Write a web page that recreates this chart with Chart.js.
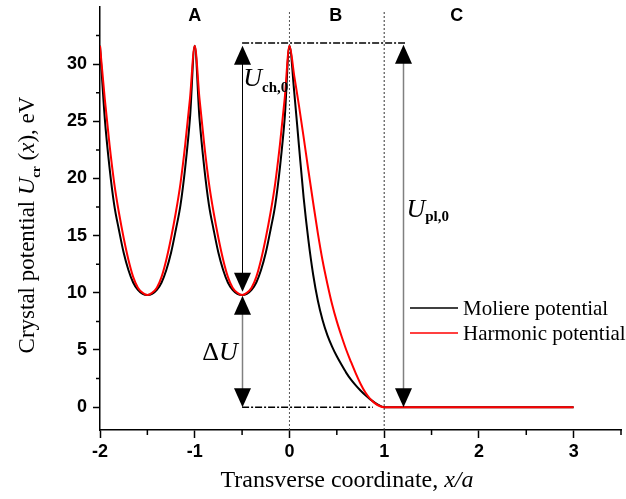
<!DOCTYPE html>
<html>
<head>
<meta charset="utf-8">
<script src="https://cdn.jsdelivr.net/npm/chart.js@4.4.1/dist/chart.umd.min.js"></script>
<style>
  html, body { margin: 0; padding: 0; background: #fff; }
  #wrap { width: 626px; height: 499px; }
</style>
</head>
<body>
<div id="wrap"><canvas id="potentialChart" width="626" height="499"></canvas></div>
<script>
// transverse coordinate x/a of the sampled points
const xCoord = [-2, -1.95, -1.9, -1.85, -1.8, -1.75, -1.7, -1.65, -1.6, -1.55, -1.5,
  -1.45, -1.4, -1.35, -1.3, -1.25, -1.2, -1.15, -1.1, -1.05, -1,
  -0.95, -0.9, -0.85, -0.8, -0.75, -0.7, -0.65, -0.6, -0.55, -0.5,
  -0.45, -0.4, -0.35, -0.3, -0.25, -0.2, -0.15, -0.1, -0.05, 0,
  0.05, 0.1, 0.15, 0.2, 0.25, 0.3, 0.35, 0.4, 0.45, 0.5,
  0.55, 0.6, 0.65, 0.7, 0.75, 0.8, 0.85, 0.9, 0.95, 1,
  1.5, 2, 2.5, 3];

// Moliere potential, eV
const moliere = [31.6, 25.3, 21.0, 17.7, 15.5, 13.5, 12.0, 10.9, 10.25, 9.9, 9.8,
  9.9, 10.25, 10.9, 12.0, 13.5, 15.5, 17.7, 21.0, 25.3, 31.6,
  25.3, 21.0, 17.7, 15.5, 13.5, 12.0, 10.9, 10.25, 9.9, 9.8,
  9.9, 10.25, 10.9, 12.0, 13.5, 15.5, 17.7, 21.0, 25.3, 31.6,
  27.6, 22.9, 18.3, 14.6, 11.6, 9.3, 7.6, 6.3, 5.3, 4.45,
  3.7, 3.0, 2.4, 1.9, 1.45, 1.05, 0.7, 0.4, 0.15, 0,
  0, 0, 0, 0];

// harmonic potential, eV
const harmonic = [31.6, 27.0, 23.0, 19.6, 17.0, 14.8, 12.9, 11.4, 10.45, 10.0, 9.8,
  10.0, 10.45, 11.4, 12.9, 14.8, 17.0, 19.6, 23.0, 27.0, 31.6,
  27.0, 23.0, 19.6, 17.0, 14.8, 12.9, 11.4, 10.45, 10.0, 9.8,
  10.0, 10.45, 11.4, 12.9, 14.8, 17.0, 19.6, 23.0, 27.0, 31.6,
  29.0, 26.4, 23.6, 20.7, 17.9, 15.2, 12.8, 10.8, 9.0, 7.5,
  6.2, 5.0, 3.95, 2.95, 2.05, 1.3, 0.75, 0.35, 0.1, 0,
  0, 0, 0, 0];

const xTicks = [-2, -1.5, -1, -0.5, 0, 0.5, 1, 1.5, 2, 2.5, 3, 3.5];
const yTicks = [0, 2.5, 5, 7.5, 10, 12.5, 15, 17.5, 20, 22.5, 25, 27.5, 30, 32.5];

const regionNames = ['A', 'B', 'C'];
const regionX = [-1, 0.49, 1.765];
const boundaryX = [0, 1];
const boundaryTop = 34.6;
const peakLevel = 31.85;

const serif = "'Liberation Serif', 'Times New Roman', serif";
const sans = "'Liberation Sans', Arial, sans-serif";

function pts(xs, ys) {
  return xs.map((x, i) => ({ x: x, y: ys[i] }));
}

function drawParts(ctx, parts, x, y) {
  parts.forEach(p => {
    ctx.font = p.font;
    ctx.fillText(p.t, x, y + (p.dy || 0));
    x += ctx.measureText(p.t).width;
  });
}
function partsWidth(ctx, parts) {
  let w = 0;
  parts.forEach(p => { ctx.font = p.font; w += ctx.measureText(p.t).width; });
  return w;
}

function arrowHead(ctx, x, yTip, up) {
  const h = 19, w = 8.5;
  const yBase = up ? yTip + h : yTip - h;
  ctx.beginPath();
  ctx.moveTo(x, yTip);
  ctx.lineTo(x - w, yBase);
  ctx.lineTo(x + w, yBase);
  ctx.closePath();
  ctx.fill();
}

// double arrows: x, top value, bottom value, line colour
const arrows = [
  { x: -0.5, top: 31.6, bottom: 10.1, color: '#000' },
  { x: -0.5, top: 9.75, bottom: 0, color: '#808080' },
  { x: 1.2, top: 31.7, bottom: 0, color: '#808080' }
];

const decorations = {
  id: 'decorations',
  afterDatasetsDraw(chart) {
    const ctx = chart.ctx;
    const xs = chart.scales.x, ys = chart.scales.y;
    const area = chart.chartArea;
    ctx.save();
    ctx.fillStyle = '#000';

    // arrows
    arrows.forEach(a => {
      const px = Math.round(xs.getPixelForValue(a.x)) + 0.5;
      const yt = ys.getPixelForValue(a.top), yb = ys.getPixelForValue(a.bottom);
      ctx.strokeStyle = a.color;
      ctx.lineWidth = a.color === '#000' ? 1 : 1.5;
      ctx.beginPath();
      ctx.moveTo(px, yt + 18);
      ctx.lineTo(px, yb - 18);
      ctx.stroke();
      arrowHead(ctx, px, yt, true);
      arrowHead(ctx, px, yb, false);
    });

    // region letters
    ctx.font = 'bold 18px ' + sans;
    ctx.textAlign = 'center';
    ctx.textBaseline = 'middle';
    regionNames.forEach((n, i) => {
      ctx.fillText(n, xs.getPixelForValue(regionX[i]), area.top + 9);
    });

    // annotation symbols
    ctx.textAlign = 'left';
    ctx.textBaseline = 'alphabetic';
    const bigU = 'italic 26px ' + serif;
    const subF = 'bold 15px ' + serif;
    drawParts(ctx, [
      { t: 'U', font: bigU },
      { t: 'ch,0', font: subF, dy: 6 }
    ], xs.getPixelForValue(-0.487), ys.getPixelForValue(28.1));
    drawParts(ctx, [
      { t: '\u0394', font: '26px ' + serif },
      { t: 'U', font: bigU }
    ], xs.getPixelForValue(-0.92), ys.getPixelForValue(4.1));
    drawParts(ctx, [
      { t: 'U', font: bigU },
      { t: 'pl,0', font: subF, dy: 4 }
    ], xs.getPixelForValue(1.235), ys.getPixelForValue(16.6));

    // legend
    const lx = area.left + 310;
    [['Moliere potential', '#000', 308], ['Harmonic potential', '#ff0000', 333]].forEach(l => {
      ctx.strokeStyle = l[1];
      ctx.lineWidth = 1.5;
      ctx.beginPath();
      ctx.moveTo(lx, l[2]);
      ctx.lineTo(lx + 48, l[2]);
      ctx.stroke();
      ctx.fillStyle = '#000';
      ctx.font = '21px ' + serif;
      ctx.textBaseline = 'middle';
      ctx.fillText(l[0], lx + 53, l[2] + 1);
    });

    // minor ticks
    ctx.strokeStyle = '#000';
    ctx.lineWidth = 1.5;
    ctx.beginPath();
    xTicks.filter(v => !Number.isInteger(v)).forEach(v => {
      const px = xs.getPixelForValue(v);
      ctx.moveTo(px, area.bottom);
      ctx.lineTo(px, area.bottom + 5);
    });
    yTicks.filter(v => v % 5 !== 0).forEach(v => {
      const py = ys.getPixelForValue(v);
      ctx.moveTo(area.left, py);
      ctx.lineTo(area.left - 4, py);
    });
    ctx.stroke();

    // axis titles
    ctx.fillStyle = '#000';
    ctx.textBaseline = 'alphabetic';
    const xt = [
      { t: 'Transverse coordinate, ', font: '24px ' + serif },
      { t: 'x/a', font: 'italic 24px ' + serif }
    ];
    drawParts(ctx, xt, 347 - partsWidth(ctx, xt) / 2, 487);

    const yt = [
      { t: 'Crystal potential ', font: '23px ' + serif },
      { t: 'U', font: 'italic 24px ' + serif },
      { t: 'cr', font: 'bold 13px ' + serif, dy: 6 },
      { t: ' (', font: '23px ' + serif },
      { t: 'x', font: 'italic 23px ' + serif },
      { t: '), eV', font: '23px ' + serif }
    ];
    ctx.translate(34, 225);
    ctx.rotate(-Math.PI / 2);
    drawParts(ctx, yt, -partsWidth(ctx, yt) / 2, 0);
    ctx.restore();
  }
};

const ctx = document.getElementById('potentialChart').getContext('2d');

new Chart(ctx, {
  type: 'line',
  data: {
    datasets: [
      {
        label: 'Moliere potential',
        data: pts(xCoord, moliere),
        borderColor: '#000',
        borderWidth: 2,
        pointRadius: 0,
        cubicInterpolationMode: 'monotone',
        order: 2
      },
      {
        label: 'Harmonic potential',
        data: pts(xCoord, harmonic),
        borderColor: '#ff0000',
        borderWidth: 2,
        pointRadius: 0,
        cubicInterpolationMode: 'monotone',
        order: 1
      },
      {
        label: 'boundary 0',
        data: [{ x: boundaryX[0], y: -2 }, { x: boundaryX[0], y: boundaryTop }],
        borderColor: '#555',
        borderWidth: 1,
        borderDash: [2, 2],
        pointRadius: 0,
        order: 4
      },
      {
        label: 'boundary 1',
        data: [{ x: boundaryX[1], y: -2 }, { x: boundaryX[1], y: boundaryTop }],
        borderColor: '#333',
        borderWidth: 1,
        borderDash: [2, 2],
        pointRadius: 0,
        order: 4
      },
      {
        label: 'peak level',
        data: [{ x: -0.5, y: peakLevel }, { x: 1.22, y: peakLevel }],
        borderColor: '#000',
        borderWidth: 1.5,
        borderDash: [7, 2, 2, 2],
        pointRadius: 0,
        order: 3
      },
      {
        label: 'zero level',
        data: [{ x: -0.5, y: 0 }, { x: 0.88, y: 0 }],
        borderColor: '#000',
        borderWidth: 1.5,
        borderDash: [7, 2, 2, 2],
        pointRadius: 0,
        order: 3
      }
    ]
  },
  options: {
    responsive: false,
    animation: false,
    layout: { padding: { top: 7, right: 5, left: 0, bottom: 0 } },
    plugins: {
      legend: { display: false },
      tooltip: { enabled: false }
    },
    scales: {
      x: {
        type: 'linear',
        min: -2,
        max: 3.5,
        afterBuildTicks: s => { s.ticks = xTicks.map(v => ({ value: v })); },
        afterFit: s => { s.height = 69; s.paddingLeft = 0; s.paddingRight = 0; },
        ticks: {
          autoSkip: false,
          maxRotation: 0,
          padding: 3,
          color: '#000',
          font: { family: sans, size: 18, weight: 'bold' },
          callback: v => Number.isInteger(v) ? v : ''
        },
        grid: {
          drawOnChartArea: false,
          tickLength: 8,
          tickWidth: 1.5,
          tickColor: c => (c.tick && Number.isInteger(c.tick.value)) ? '#000' : 'rgba(0,0,0,0)'
        },
        border: { color: '#000', width: 1.5 }
      },
      y: {
        type: 'linear',
        min: -2,
        max: 35,
        afterBuildTicks: s => { s.ticks = yTicks.map(v => ({ value: v })); },
        afterFit: s => { s.width = 100; s.paddingTop = 0; s.paddingBottom = 0; },
        ticks: {
          autoSkip: false,
          padding: 6,
          color: '#000',
          font: { family: sans, size: 18, weight: 'bold' },
          callback: v => v % 5 === 0 ? v : ''
        },
        grid: {
          drawOnChartArea: false,
          tickLength: 7,
          tickWidth: 1.5,
          tickColor: c => (c.tick && c.tick.value % 5 === 0) ? '#000' : 'rgba(0,0,0,0)'
        },
        border: { color: '#000', width: 1.5 }
      }
    }
  },
  plugins: [decorations]
});
</script>
</body>
</html>
